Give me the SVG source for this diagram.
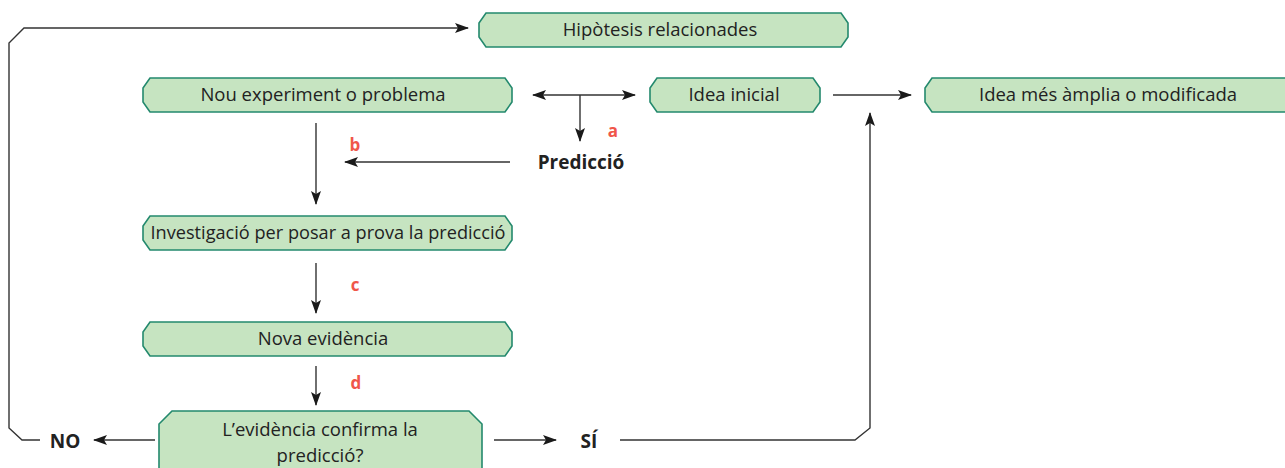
<svg xmlns="http://www.w3.org/2000/svg" width="1285" height="468" viewBox="0 0 1285 468">
<defs>
<marker id="ah" markerWidth="14" markerHeight="10" refX="13" refY="5" orient="auto-start-reverse" markerUnits="userSpaceOnUse">
<path d="M0,0 L14,5 L0,10 L3,5 Z" fill="#1a1a1a"/>
</marker>
<style>
.box{fill:#c6e4c1;stroke:#23896d;stroke-width:1.6}
.t{font-family:"Open Sans","Noto Sans",sans-serif;font-size:18.5px;fill:#222;text-anchor:middle}
.b{font-family:"Open Sans","Noto Sans",sans-serif;font-size:19px;font-weight:bold;fill:#222;text-anchor:middle}
.r{font-family:"Open Sans","Noto Sans",sans-serif;font-size:17px;font-weight:bold;fill:#f0564a;text-anchor:middle}
.c{fill:none;stroke:#333;stroke-width:1.4}
</style>
</defs>
<rect width="1285" height="468" fill="#fff"/>
<g id="hipotesis">
<path class="box" d="M486,13 H841 L848,23 V37 L841,47 H486 L479,37 V23 Z"/>
<text class="t" x="660" y="36">Hipòtesis relacionades</text>
</g>
<g id="nou">
<path class="box" d="M150,78 H505 L512,88 V102 L505,112 H150 L143,102 V88 Z"/>
<text class="t" x="323" y="101">Nou experiment o problema</text>
</g>
<g id="idea">
<path class="box" d="M657,78 H813 L820,88 V102 L813,112 H657 L650,102 V88 Z"/>
<text class="t" x="734" y="101">Idea inicial</text>
</g>
<g id="ampla">
<path class="box" d="M932,78 H1292 L1299,88 V102 L1292,112 H932 L925,102 V88 Z"/>
<text class="t" x="1108" y="101">Idea més àmplia o modificada</text>
</g>
<g id="prediccio">
<text class="b" x="581" y="169">Predicció</text>
</g>
<g id="investigacio">
<path class="box" d="M150,216 H505 L512,226 V240 L505,250 H150 L143,240 V226 Z"/>
<text class="t" x="328" y="239" textLength="355" lengthAdjust="spacingAndGlyphs">Investigació per posar a prova la predicció</text>
</g>
<g id="nova">
<path class="box" d="M150,322 H505 L512,332 V346 L505,356 H150 L143,346 V332 Z"/>
<text class="t" x="323" y="345">Nova evidència</text>
</g>
<g id="confirma">
<path class="box" d="M172,411 H469 L482,424 V470 H159 V424 Z"/>
<text class="t" x="320" y="436">L’evidència confirma la</text>
<text class="t" x="320" y="462">predicció?</text>
</g>
<g id="no"><text class="b" x="65" y="448">NO</text></g>
<g id="si"><text class="b" x="589" y="448">SÍ</text></g>
<g id="connectors">
<path class="c" d="M40,440 H22 L9,428 V43 L24,28 H468" marker-end="url(#ah)"/>
<line class="c" x1="533" y1="95" x2="635" y2="95" marker-start="url(#ah)" marker-end="url(#ah)"/>
<line class="c" x1="580" y1="95" x2="580" y2="141" marker-end="url(#ah)"/>
<line class="c" x1="833" y1="95" x2="911" y2="95" marker-end="url(#ah)"/>
<line class="c" x1="510" y1="162" x2="345" y2="162" marker-end="url(#ah)"/>
<line class="c" x1="316" y1="123" x2="316" y2="204" marker-end="url(#ah)"/>
<line class="c" x1="316" y1="263" x2="316" y2="313" marker-end="url(#ah)"/>
<line class="c" x1="316" y1="366" x2="316" y2="405" marker-end="url(#ah)"/>
<line class="c" x1="155" y1="440" x2="94" y2="440" marker-end="url(#ah)"/>
<line class="c" x1="494" y1="440" x2="556" y2="440" marker-end="url(#ah)"/>
<path class="c" d="M620,440 H855 L870,428 V113" marker-end="url(#ah)"/>
<text class="r" x="613" y="137">a</text>
<text class="r" x="355" y="151">b</text>
<text class="r" x="355" y="291">c</text>
<text class="r" x="356" y="389">d</text>
</g>
</svg>
